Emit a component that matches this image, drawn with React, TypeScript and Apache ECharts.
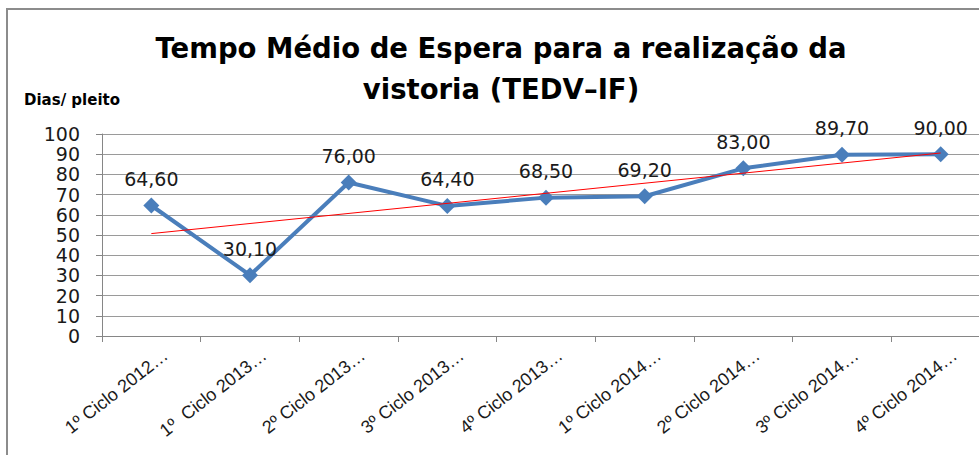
import React, { useEffect, useRef } from "react";
import * as echarts from "echarts";

const categories = [
  "1º Ciclo 2012…",
  "1º  Ciclo 2013…",
  "2º Ciclo 2013…",
  "3º Ciclo 2013…",
  "4º Ciclo 2013…",
  "1º Ciclo 2014…",
  "2º Ciclo 2014…",
  "3º Ciclo 2014…",
  "4º Ciclo 2014…",
];
const values = [64.6, 30.1, 76.0, 64.4, 68.5, 69.2, 83.0, 89.7, 90.0];
// linear trend line endpoints
const trendStart = 50.7;
const trendEnd = 90.6;
const yTicks = [0, 10, 20, 30, 40, 50, 60, 70, 80, 90, 100];

export default function App() {
  const ref = useRef<HTMLDivElement>(null);
  useEffect(() => {
    document.body.style.margin = "0";
    document.body.style.overflow = "hidden";
    document.documentElement.style.overflow = "hidden";
    const chart = echarts.init(ref.current!, undefined, { renderer: "svg" });
    const trend = categories.map((_, i) =>
      i === 0 ? trendStart : i === categories.length - 1 ? trendEnd : null
    );
    chart.setOption({
      animation: false,
      backgroundColor: "#ffffff",
      title: {
        text: "Tempo Médio de Espera para a realização da\nvistoria (TEDV–IF)",
        left: 496,
        textAlign: "center",
        top: 22,
        textStyle: {
          fontFamily: "DejaVu Sans",
          fontWeight: "bold",
          fontSize: 27.5,
          lineHeight: 41,
          color: "#000000",
        },
      },
      graphic: [
        {
          type: "rect",
          shape: { x: 7, y: 9, width: 1000, height: 500 },
          style: { fill: "none", stroke: "#8c8c8c", lineWidth: 2 },
          silent: true,
        },
        {
          type: "text",
          x: 24,
          y: 92,
          style: {
            text: "Dias/ pleito",
            fontFamily: "DejaVu Sans",
            fontWeight: "bold",
            fontSize: 15,
            fill: "#000000",
          },
        },
      ],
      grid: { left: 102, top: 134, right: 0, bottom: 119, containLabel: false },
      xAxis: {
        type: "category",
        data: categories,
        boundaryGap: true,
        axisLine: { lineStyle: { color: "#868686", width: 1 } },
        axisTick: { show: true, length: 6, alignWithLabel: false, lineStyle: { color: "#868686" } },
        axisLabel: {
          rotate: 38,
          interval: 0,
          margin: 28,
          padding: [0, -18, 0, 0],
          fontFamily: "Liberation Sans",
          fontSize: 18,
          color: "#1a1a1a",
        },
      },
      yAxis: {
        type: "value",
        min: 0,
        max: 100,
        interval: 10,
        axisLine: { show: true, lineStyle: { color: "#868686", width: 1 } },
        axisTick: { show: true, length: 6, lineStyle: { color: "#868686" } },
        splitLine: { show: true, lineStyle: { color: "#9a9a9a", width: 1 } },
        axisLabel: {
          margin: 22,
          fontFamily: "DejaVu Sans",
          fontSize: 19,
          color: "#1a1a1a",
          formatter: (v: number) => (yTicks.includes(v) ? String(v) : ""),
        },
      },
      series: [
        {
          type: "line",
          data: values,
          symbol: "diamond",
          symbolSize: 16,
          lineStyle: { color: "#4a7ebb", width: 4 },
          itemStyle: { color: "#4a7ebb" },
          z: 3,
          label: {
            show: true,
            position: "top",
            distance: 9,
            fontFamily: "DejaVu Sans",
            fontSize: 19,
            color: "#1a1a1a",
            formatter: (p: any) => Number(p.value).toFixed(2).replace(".", ","),
          },
        },
        {
          type: "line",
          data: trend,
          connectNulls: true,
          symbol: "none",
          lineStyle: { color: "#ff0000", width: 1 },
          z: 4,
          silent: true,
        },
      ],
    });
    return () => chart.dispose();
  }, []);
  return <div ref={ref} style={{ width: 990, height: 455 }} />;
}
